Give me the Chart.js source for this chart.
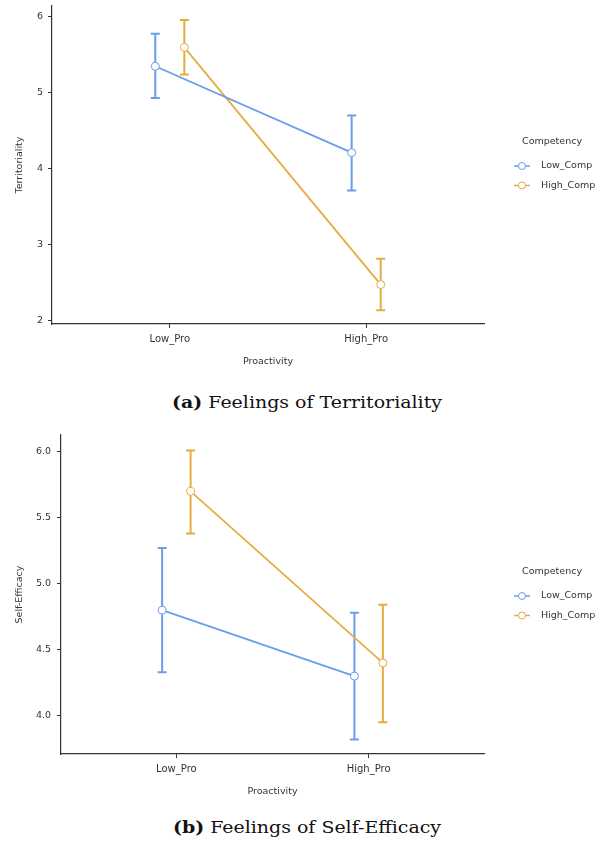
<!DOCTYPE html>
<html>
<head>
<meta charset="utf-8">
<script src="https://cdn.jsdelivr.net/npm/chart.js@4.4.1/dist/chart.umd.min.js"></script>
<style>
  body { margin: 0; background: #fff; width: 601px; height: 847px; position: relative; overflow: hidden; }
  .plot { position: absolute; left: 0; width: 601px; height: 375px; }
  .caption { position: absolute; font-family: "DejaVu Serif", serif; font-size: 16px; color: #111; white-space: nowrap; transform-origin: left center; }
</style>
</head>
<body>
<div class="plot" style="top:0"><canvas id="terr" width="601" height="375"></canvas></div>
<div class="caption" id="capA" style="top:393px; left:172px"><b>(a)</b> Feelings of Territoriality</div>
<div class="plot" style="top:430px"><canvas id="eff" width="601" height="375"></canvas></div>
<div class="caption" id="capB" style="top:818px; left:173px"><b>(b)</b> Feelings of Self-Efficacy</div>

<script>
// categories and groups
const categories = ['Low_Pro', 'High_Pro'];
const groups = ['Low_Comp', 'High_Comp'];

// (a) territoriality: means and interval ends
const terrLowComp = [5.35, 4.21];
const terrLowCompLower = [4.93, 3.71];
const terrLowCompUpper = [5.78, 4.70];
const terrHighComp = [5.60, 2.47];
const terrHighCompLower = [5.24, 2.13];
const terrHighCompUpper = [5.96, 2.81];
const terrTicks = [2, 3, 4, 5, 6];

// (b) self-efficacy
const effLowComp = [4.80, 4.30];
const effLowCompLower = [4.33, 3.82];
const effLowCompUpper = [5.27, 4.78];
const effHighComp = [5.70, 4.40];
const effHighCompLower = [5.38, 3.95];
const effHighCompUpper = [6.01, 4.84];
const effTicks = [4.0, 4.5, 5.0, 5.5, 6.0];

const blue = '#6B9DE8';
const orange = '#E6AC40';
const colors = [blue, orange];
const dodge = 0.074;

Chart.defaults.font.family = '"DejaVu Sans", sans-serif';
Chart.defaults.color = '#333';

const toPoints = (vals, off) => vals.map((v, i) => ({ x: i + 1 + off, y: v }));

// draws the vertical interval bars with caps
const errorBars = {
  id: 'errorBars',
  beforeDatasetsDraw(chart) {
    const ctx = chart.ctx, ys = chart.scales.y;
    chart.data.datasets.forEach((ds, i) => {
      const meta = chart.getDatasetMeta(i);
      ctx.save();
      ctx.strokeStyle = ds.borderColor;
      ctx.lineWidth = 2;
      meta.data.forEach((pt, j) => {
        const lo = ys.getPixelForValue(ds.lower[j]);
        const hi = ys.getPixelForValue(ds.upper[j]);
        ctx.beginPath();
        ctx.moveTo(pt.x, lo); ctx.lineTo(pt.x, hi);
        ctx.moveTo(pt.x - 4.5, lo); ctx.lineTo(pt.x + 4.5, lo);
        ctx.moveTo(pt.x - 4.5, hi); ctx.lineTo(pt.x + 4.5, hi);
        ctx.stroke();
      });
      ctx.restore();
    });
  }
};

// legend on the right, drawn by hand
const sideLegend = {
  id: 'sideLegend',
  afterDraw(chart) {
    const ctx = chart.ctx;
    ctx.save();
    ctx.font = '9.5px "DejaVu Sans", sans-serif';
    ctx.fillStyle = '#333';
    ctx.textBaseline = 'middle';
    ctx.textAlign = 'center';
    ctx.fillText('Competency', 552, 142);
    ctx.textAlign = 'left';
    groups.forEach((g, i) => {
      const y = 166 + i * 19.5;
      ctx.strokeStyle = colors[i];
      ctx.lineWidth = 1.5;
      ctx.beginPath(); ctx.moveTo(514, y); ctx.lineTo(530, y); ctx.stroke();
      ctx.beginPath(); ctx.arc(522, y, 3.5, 0, Math.PI * 2);
      ctx.fillStyle = '#fff'; ctx.fill();
      ctx.lineWidth = 1; ctx.stroke();
      ctx.fillStyle = '#333';
      ctx.fillText(g, 541, y);
    });
    ctx.restore();
  }
};

const noPad = sc => { sc.paddingTop = 0; sc.paddingBottom = 0; sc.paddingLeft = 0; sc.paddingRight = 0; };

const makeChart = (id, s) => {
  const series = [[s.low, s.lowLower, s.lowUpper, -dodge], [s.high, s.highLower, s.highUpper, dodge]];
  new Chart(document.getElementById(id), {
    type: 'line',
    data: {
      datasets: series.map((d, i) => ({
        label: groups[i],
        data: toPoints(d[0], d[3]),
        lower: d[1],
        upper: d[2],
        borderColor: colors[i],
        borderWidth: 1.8,
        pointRadius: 4,
        pointBorderWidth: 1,
        pointBackgroundColor: '#fff',
        pointBorderColor: colors[i],
        tension: 0
      }))
    },
    options: {
      responsive: false,
      animation: false,
      layout: { padding: { top: s.top, right: 117, left: 0, bottom: 0 } },
      plugins: { legend: { display: false }, tooltip: { enabled: false } },
      scales: {
        x: {
          type: 'linear', min: 0.4, max: 2.6,
          afterBuildTicks: sc => { sc.ticks = categories.map((c, i) => ({ value: i + 1 })); },
          afterFit: sc => { sc.height = 51; noPad(sc); },
          ticks: { callback: v => categories[v - 1], font: { size: 10 }, padding: 5, maxRotation: 0 },
          grid: { drawOnChartArea: false, tickLength: 4, color: '#333' },
          border: { color: '#333', width: 1.2 },
          title: { display: true, text: 'Proactivity', font: { size: 9.5 }, padding: { top: 0, bottom: 8 } }
        },
        y: {
          min: s.min, max: s.max,
          afterBuildTicks: sc => { sc.ticks = s.ticks.map(v => ({ value: v })); },
          afterFit: sc => { sc.width = s.left; noPad(sc); },
          ticks: { callback: v => v.toFixed(s.dec), font: { size: 9.5 }, padding: s.pad },
          grid: { drawOnChartArea: false, tickLength: 4, color: '#333' },
          border: { color: '#333', width: 1.2 },
          title: { display: true, text: s.title, font: { size: 9.5 }, padding: { top: 14, bottom: 0 } }
        }
      }
    },
    plugins: [errorBars, sideLegend]
  });
};

makeChart('terr', {
  low: terrLowComp, lowLower: terrLowCompLower, lowUpper: terrLowCompUpper,
  high: terrHighComp, highLower: terrHighCompLower, highUpper: terrHighCompUpper,
  ticks: terrTicks, min: 1.95, max: 6.145, dec: 0, top: 6, left: 52, pad: 5, title: 'Territoriality'
});

makeChart('eff', {
  low: effLowComp, lowLower: effLowCompLower, lowUpper: effLowCompUpper,
  high: effHighComp, highLower: effHighCompLower, highUpper: effHighCompUpper,
  ticks: effTicks, min: 3.71, max: 6.127, dec: 1, top: 5, left: 61, pad: 6, title: 'Self-Efficacy'
});

// stretch captions to the width they take in the picture
[['capA', 270], ['capB', 268]].forEach(([id, w]) => {
  const el = document.getElementById(id);
  el.style.transform = 'scaleX(' + (w / el.getBoundingClientRect().width) + ')';
});
</script>
</body>
</html>
